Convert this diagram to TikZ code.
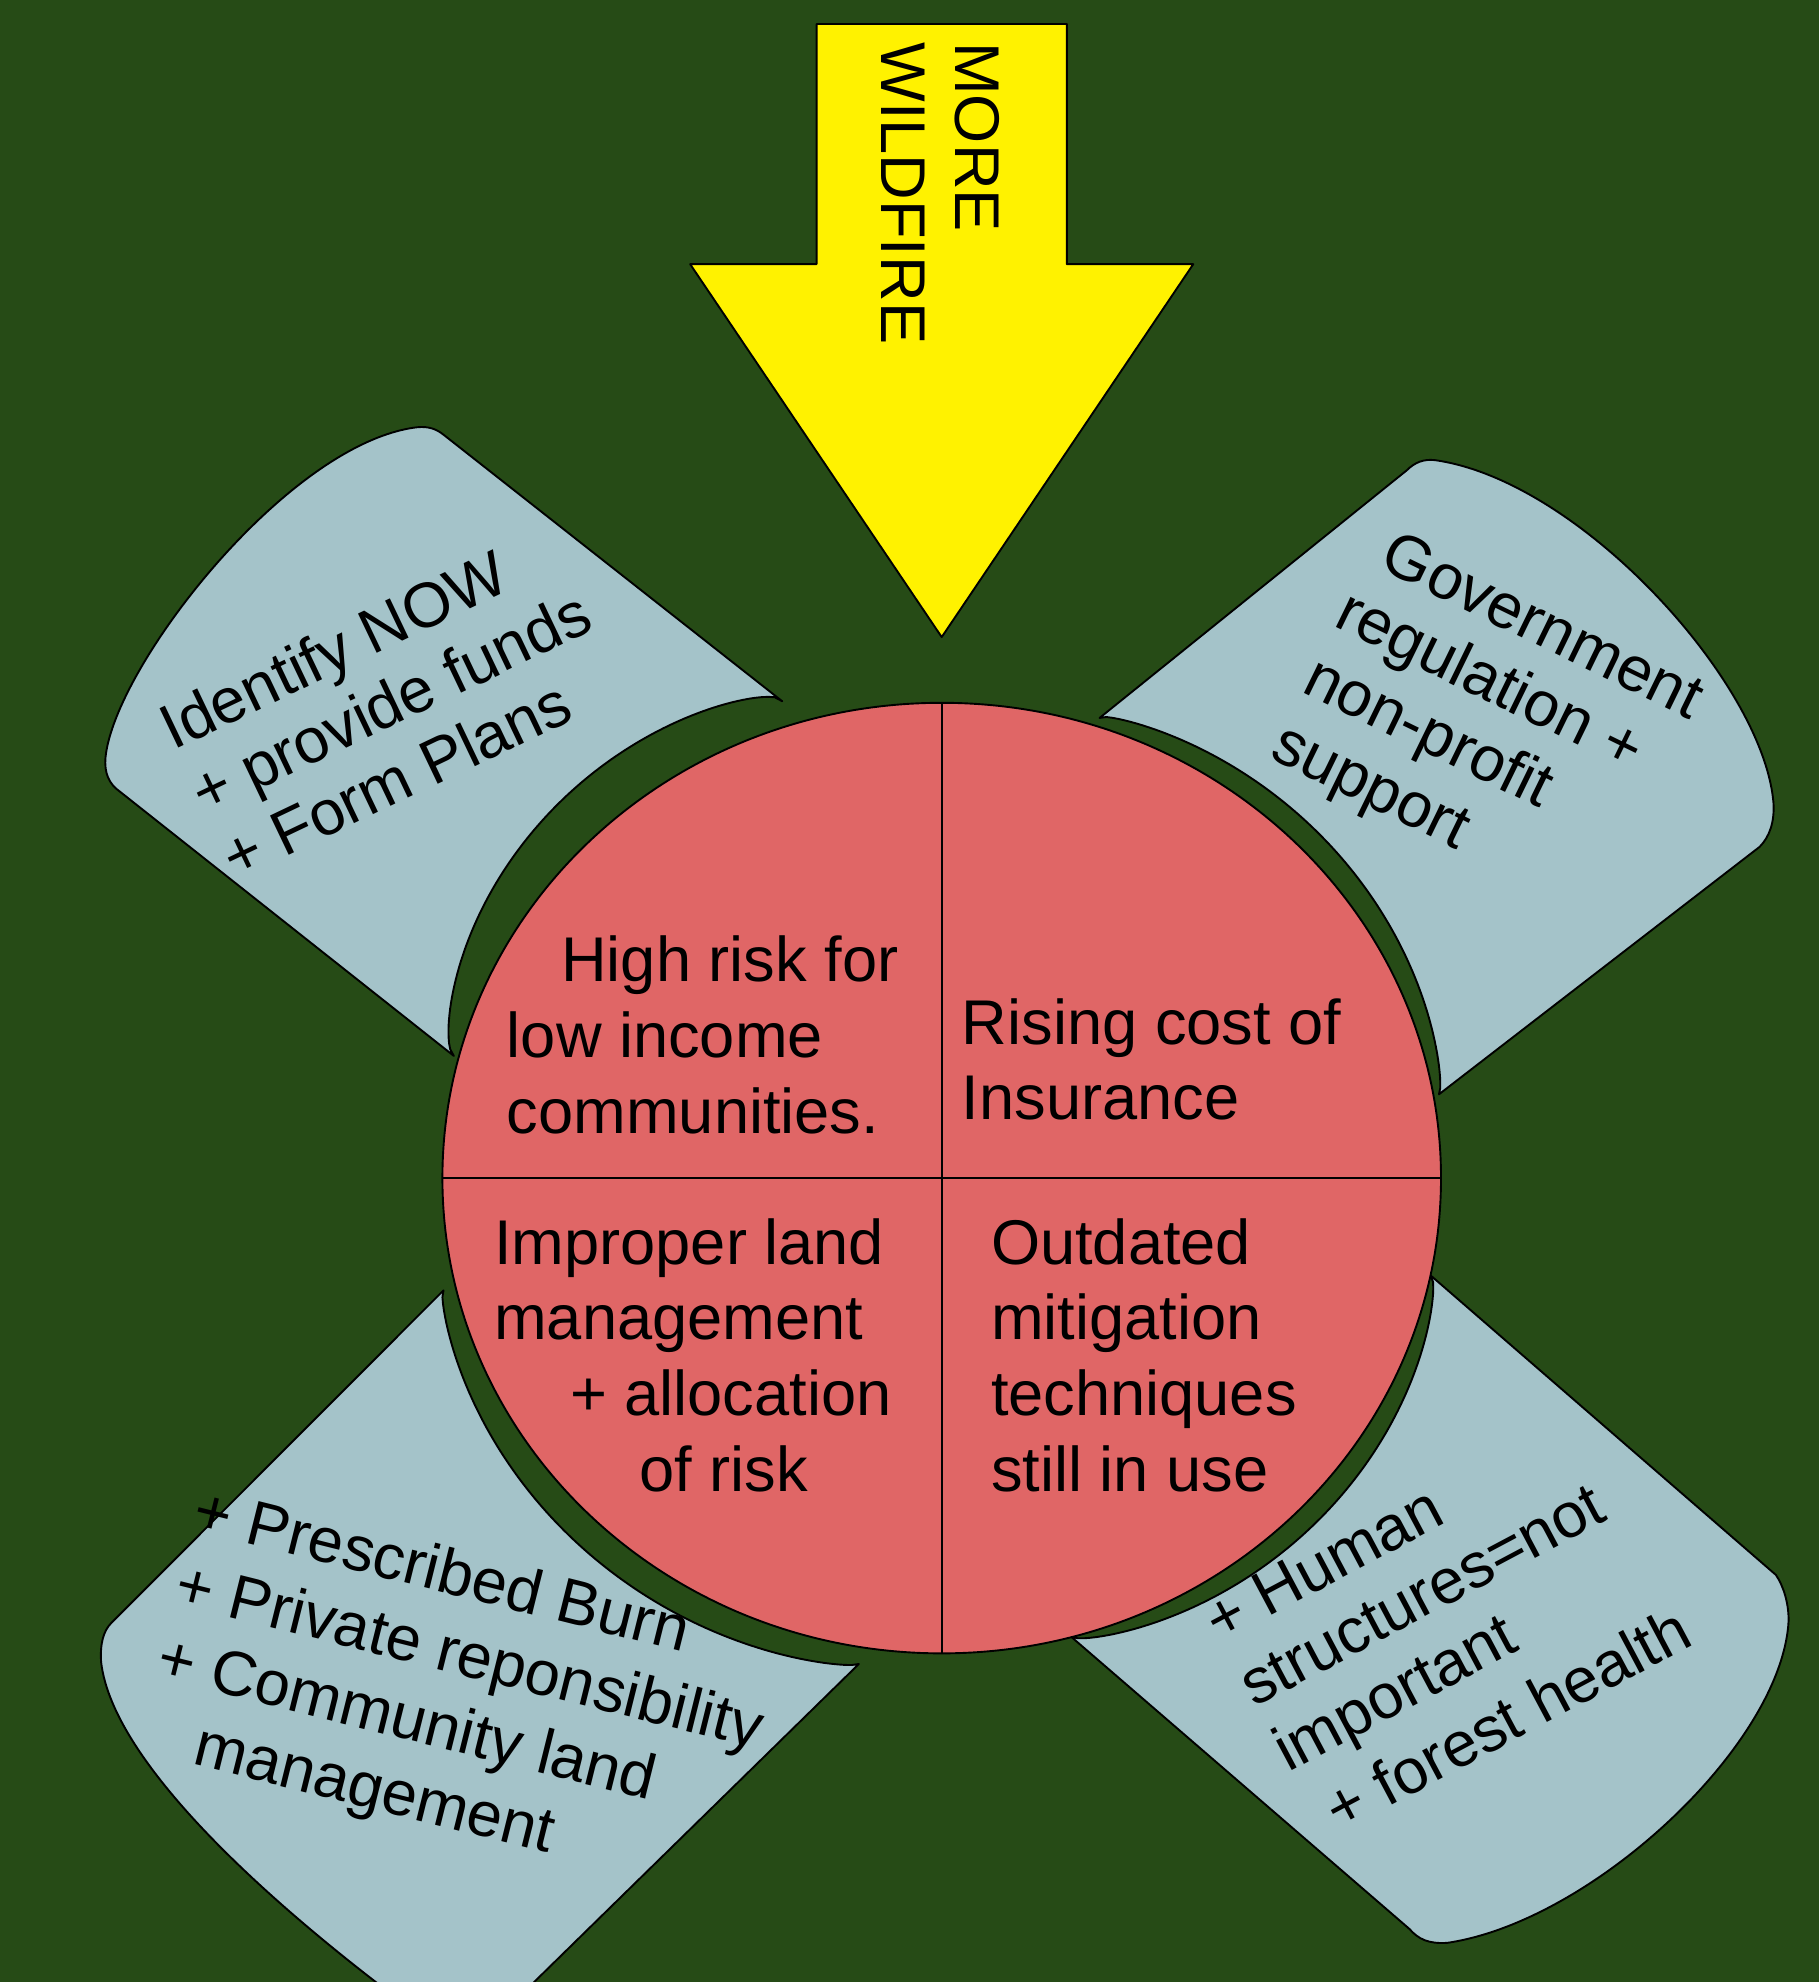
\documentclass[tikz,border=0pt]{standalone}
\usepackage{fontspec}
\setmainfont{Liberation Sans}
\definecolor{bg}{RGB}{38,75,22}
\definecolor{petal}{RGB}{164,195,201}
\definecolor{disc}{RGB}{224,102,102}
\newcommand\cncv[5]{plot[domain=0:1,samples=90,variable=\t] ({745+(395+(#3)+((#4)-(#3))*\t+(#5)*sqrt(abs(sin(180*\t))))*cos((#1)+((#2)-(#1))*\t)},{932+(376+(#3)+((#4)-(#3))*\t+(#5)*sqrt(abs(sin(180*\t))))*sin((#1)+((#2)-(#1))*\t)})}
\begin{document}
\begin{tikzpicture}[x=1pt,y=-1pt,line join=round,
  txt/.style={font=\fontsize{50}{60}\selectfont,inner sep=0pt,outer sep=0pt,anchor=base west,text=black},
  petalshape/.style={fill=petal,draw=black,line width=1.5pt},
  outline/.style={draw=black,line width=1.5pt}]
\useasboundingbox (0,0) rectangle (1439,1568);
\fill[bg] (0,0) rectangle (1439,1568);
\begin{scope}
\clip (0,0) rectangle (1439,1568);
% top-left petal
\path[petalshape] \cncv{-107.7}{-165.3}{20}{3}{26.5}
  -- (92,624) .. controls (84,617) and (82,607) .. (84,595)
  .. controls (96,520) and (230,350) .. (330,338)
  .. controls (340,337) and (346,340) .. (351,344) -- cycle;
% top-right petal
\path[petalshape] \cncv{-71.9}{-10.0}{7}{4}{12.5}
  -- (1392,670) .. controls (1400,662) and (1404,650) .. (1403,635)
  .. controls (1395,540) and (1250,380) .. (1135,364)
  .. controls (1126,363) and (1119,366) .. (1113,372) -- cycle;
% bottom-left petal
\path[petalshape] \cncv{166.7}{99.2}{10}{13}{11.5}
  -- (395,1595) -- (340,1600)
  .. controls (230,1520) and (90,1400) .. (80,1315)
  .. controls (79,1300) and (82,1290) .. (88,1284) -- cycle;
% bottom-right petal
\path[petalshape] \cncv{11.8}{75.0}{0}{-1}{17}
  -- (1115,1526) .. controls (1122,1534) and (1130,1538) .. (1145,1537)
  .. controls (1260,1520) and (1410,1380) .. (1415,1282)
  .. controls (1415,1268) and (1411,1255) .. (1405,1246) -- cycle;
\end{scope}
% central disc
\path[outline,fill=disc] (745,932) ellipse [x radius=395pt,y radius=376pt];
\draw[outline] (745,556) -- (745,1308);
\draw[outline] (350,932) -- (1140,932);
% arrow
\path[outline,fill=yellow] (646,19) -- (844,19) -- (844,209) -- (944,209) -- (745,504) -- (546,209) -- (646,209) -- cycle;
\node[txt,rotate=-90] (more) at (756,33.5) {MORE};
\node[txt,rotate=-90] (wild) at (697,33.5) {WILDFIRE};
% disc texts
\node[txt] (hr1) at (444,776.6) {High risk for};
\node[txt] (hr2) at (401,836.5) {low income};
\node[txt] (hr3) at (401,896.6) {communities.};
\node[txt] (rc1) at (761,826) {Rising cost of};
\node[txt] (rc2) at (761,886) {Insurance};
\node[txt] (im1) at (391,1000.5) {Improper land};
\node[txt] (im2) at (391,1060) {management};
\node[txt] (im3) at (451,1120) {+ allocation};
\node[txt] (im4) at (506,1180) {of risk};
\node[txt] (od1) at (784,1000) {Outdated};
\node[txt] (od2) at (784,1060) {mitigation};
\node[txt] (od3) at (784,1120) {techniques};
\node[txt] (od4) at (784,1180) {still in use};
% petal texts
\node[txt,rotate=25.5] (tl1) at (137,594) {Identify NOW};
\node[txt,rotate=25.5] (tl2) at (161.5,645.4) {+ provide funds};
\node[txt,rotate=25.5] (tl3) at (186,696.9) {+ Form Plans};
\node[txt,rotate=-26] (tr1) at (1090,449) {Government};
\node[txt,rotate=-26] (tr2) at (1054,495) {regulation +};
\node[txt,rotate=-26] (tr3) at (1028.6,547.1) {non-profit};
\node[txt,rotate=-26] (tr4) at (1003.2,599.2) {support};
\node[txt,rotate=-14] (bl1) at (151,1210) {+ Prescribed Burn};
\node[txt,rotate=-14] (bl2) at (136.5,1268.2) {+ Private reponsibility};
\node[txt,rotate=-14] (bl3) at (122,1326.4) {+ Community land};
\node[txt,rotate=-14] (bl4) at (151.2,1395.5) {management};
\node[txt,rotate=28] (br1) at (965,1300) {+ Human};
\node[txt,rotate=28] (br2) at (992.2,1351.2) {structures=not};
\node[txt,rotate=28] (br3) at (1019.4,1402.4) {important};
\node[txt,rotate=28] (br4) at (1060,1450) {+ forest health};
\end{tikzpicture}
\end{document}
